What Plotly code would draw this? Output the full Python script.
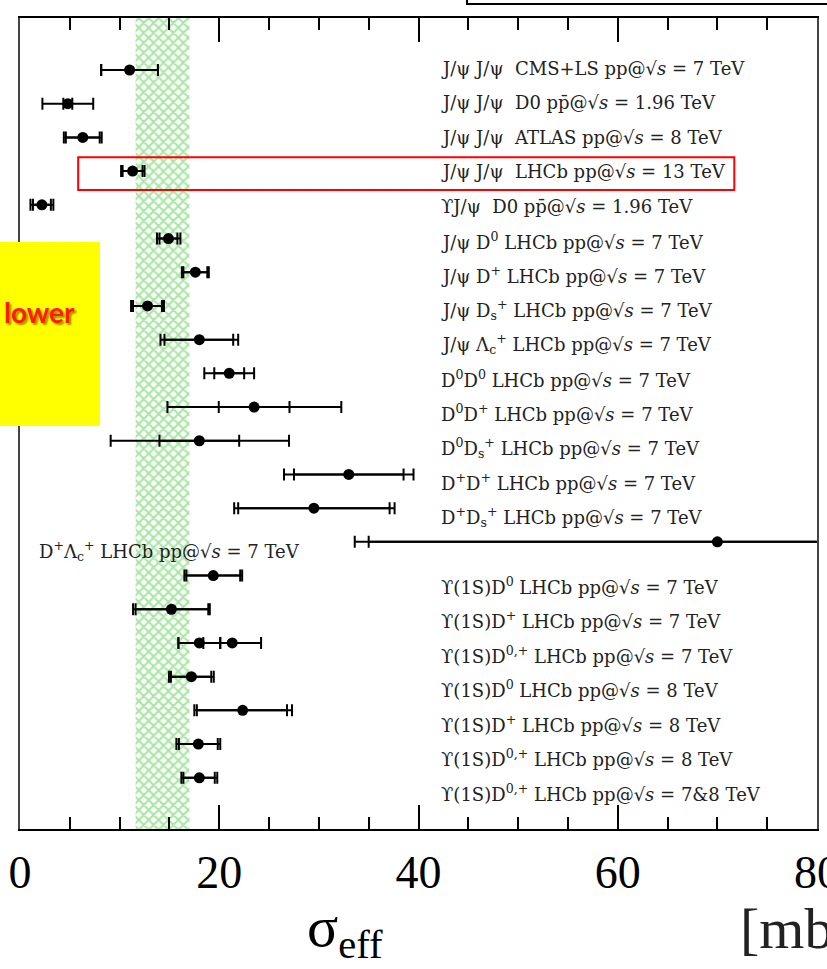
import plotly.graph_objects as go

# ---------------- data ----------------
labels = [
    "J/ψ J/ψ\u00a0\u00a0CMS+LS pp@√<i>s</i>\u00a0=\u00a07 TeV",
    "J/ψ J/ψ\u00a0\u00a0D0 pp\u0304@√<i>s</i>\u00a0=\u00a01.96 TeV",
    "J/ψ J/ψ\u00a0\u00a0ATLAS pp@√<i>s</i>\u00a0=\u00a08 TeV",
    "J/ψ J/ψ\u00a0\u00a0LHCb pp@√<i>s</i>\u00a0=\u00a013 TeV",
    "ϒJ/ψ\u00a0\u00a0D0 pp\u0304@√<i>s</i>\u00a0=\u00a01.96 TeV",
    "J/ψ D<sup>0</sup> LHCb pp@√<i>s</i>\u00a0=\u00a07 TeV",
    "J/ψ D<sup>+</sup> LHCb pp@√<i>s</i>\u00a0=\u00a07 TeV",
    "J/ψ D<sub>s</sub><sup>+</sup> LHCb pp@√<i>s</i>\u00a0=\u00a07 TeV",
    "J/ψ Λ<sub>c</sub><sup>+</sup> LHCb pp@√<i>s</i>\u00a0=\u00a07 TeV",
    "D<sup>0</sup>D<sup>0</sup> LHCb pp@√<i>s</i>\u00a0=\u00a07 TeV",
    "D<sup>0</sup>D<sup>+</sup> LHCb pp@√<i>s</i>\u00a0=\u00a07 TeV",
    "D<sup>0</sup>D<sub>s</sub><sup>+</sup> LHCb pp@√<i>s</i>\u00a0=\u00a07 TeV",
    "D<sup>+</sup>D<sup>+</sup> LHCb pp@√<i>s</i>\u00a0=\u00a07 TeV",
    "D<sup>+</sup>D<sub>s</sub><sup>+</sup> LHCb pp@√<i>s</i>\u00a0=\u00a07 TeV",
    "D<sup>+</sup>Λ<sub>c</sub><sup>+</sup> LHCb pp@√<i>s</i>\u00a0=\u00a07 TeV",
    "ϒ(1S)D<sup>0</sup> LHCb pp@√<i>s</i>\u00a0=\u00a07 TeV",
    "ϒ(1S)D<sup>+</sup> LHCb pp@√<i>s</i>\u00a0=\u00a07 TeV",
    "ϒ(1S)D<sup>0,+</sup> LHCb pp@√<i>s</i>\u00a0=\u00a07 TeV",
    "ϒ(1S)D<sup>0</sup> LHCb pp@√<i>s</i>\u00a0=\u00a08 TeV",
    "ϒ(1S)D<sup>+</sup> LHCb pp@√<i>s</i>\u00a0=\u00a08 TeV",
    "ϒ(1S)D<sup>0,+</sup> LHCb pp@√<i>s</i>\u00a0=\u00a08 TeV",
    "ϒ(1S)D<sup>0,+</sup> LHCb pp@√<i>s</i>\u00a0=\u00a07&amp;8 TeV",
]
sigma_eff = [11.0, 4.8, 6.3, 11.3, 2.2, 14.9, 17.6, 12.8, 18.0, 21.0, 23.5, 18.0,
             33.0, 29.5, 70.0, 19.4, 15.2, 18.0, 17.2, 22.35, 17.9, 18.0]
stat_minus = [2.85, 0.45, 1.7, 1.0, 0.9, 0.9, 1.2, 1.45, 3.5, 1.5, 3.55, 4.0,
              5.5, 7.6, 35.0, 2.7, 3.6, 2.1, 2.05, 4.6, 1.95, 1.6]
stat_plus = [2.85, 0.45, 1.7, 1.0, 0.9, 0.9, 1.2, 1.45, 3.4, 1.5, 3.55, 4.0,
             5.5, 7.6, 40.0, 2.7, 3.7, 2.1, 2.0, 4.45, 1.95, 1.55]
tot_minus = [2.85, 2.55, 1.9, 1.15, 1.15, 1.15, 1.35, 1.65, 3.9, 2.5, 8.7, 8.9,
             6.5, 8.0, 36.4, 2.9, 3.85, 2.1, 2.25, 4.85, 2.2, 1.8]
tot_plus = [2.85, 2.55, 1.9, 1.2, 1.15, 1.2, 1.35, 1.65, 3.9, 2.5, 8.75, 9.0,
            6.5, 8.1, 40.0, 2.9, 3.85, 2.1, 2.25, 4.95, 2.2, 1.8]
# second measurement drawn on the Υ(1S)D0,+ 7 TeV row
extra_row = [18]
extra_val = [21.3]
extra_err = [2.9]
# world-average band
band_low, band_high = 11.6, 17.0

rows = list(range(1, len(labels) + 1))

# ---------------- layout geometry ----------------
W, H = 827, 969
ML, MR, MT, MB = 20, 10, 18, 140
Y_TOP, Y_BOT = -0.543, 23.52
pw, ph = W - ML - MR, H - MT - MB


def px_to_paper_x(px):
    return (px - ML) / pw


def px_to_paper_y(py):
    return (H - MB - py) / ph


fig = go.Figure()

# hatched band
fig.add_trace(go.Scatter(
    x=[band_low, band_high, band_high, band_low, band_low],
    y=[Y_TOP, Y_TOP, Y_BOT, Y_BOT, Y_TOP],
    mode="lines", fill="toself", line=dict(width=0, color="rgba(0,0,0,0)"),
    fillcolor="rgba(255,255,255,0)",
    fillpattern=dict(shape="x", fgcolor="rgb(80,205,70)", bgcolor="rgba(255,255,255,0)",
                     size=7, solidity=0.5),
    hoverinfo="skip", showlegend=False,
))

# total error bars (outer caps) with markers
fig.add_trace(go.Scatter(
    x=sigma_eff, y=rows, mode="markers",
    marker=dict(color="black", size=11, symbol="circle"),
    error_x=dict(type="data", symmetric=False, array=tot_plus, arrayminus=tot_minus,
                 color="black", thickness=2, width=6),
    showlegend=False,
))
# stat error bars (inner caps)
fig.add_trace(go.Scatter(
    x=sigma_eff, y=rows, mode="markers",
    marker=dict(color="black", size=11, opacity=0),
    error_x=dict(type="data", symmetric=False, array=stat_plus, arrayminus=stat_minus,
                 color="black", thickness=2, width=6),
    showlegend=False, hoverinfo="skip",
))
# extra point
fig.add_trace(go.Scatter(
    x=extra_val, y=extra_row, mode="markers",
    marker=dict(color="black", size=11),
    error_x=dict(type="data", array=extra_err, color="black", thickness=2, width=6),
    showlegend=False,
))

# row labels
for i, (r, lab) in enumerate(zip(rows, labels)):
    label_py = 68 + 34.5 * i
    ly = 1 + (label_py - 70) / 33.7
    lx = 1.75 if i == 14 else 42.1
    fig.add_annotation(x=lx, y=ly, xref="x", yref="y", text=lab, showarrow=False,
                       xanchor="left", yanchor="middle",
                       font=dict(family="DejaVu Serif", size=18, color="#222"))

# red highlight box around LHCb 13 TeV row
fig.add_shape(type="rect", xref="x", yref="y", x0=5.84, x1=71.7, y0=3.59, y1=4.56,
              line=dict(color="red", width=2), fillcolor="rgba(0,0,0,0)")

# yellow "lower" box
fig.add_shape(type="rect", xref="paper", yref="paper",
              x0=px_to_paper_x(-2), x1=px_to_paper_x(100),
              y0=px_to_paper_y(426), y1=px_to_paper_y(242),
              line=dict(width=0), fillcolor="#ffff00", layer="above")
fig.add_annotation(xref="paper", yref="paper", x=px_to_paper_x(39), y=px_to_paper_y(312),
                   text="<b>lower</b>", showarrow=False, xanchor="center", yanchor="middle",
                   font=dict(family="Lato", size=28, color="#ff1a00",
                             shadow="2px 2px 2px #a09000"))

# box at top right (partial)
fig.add_shape(type="rect", xref="paper", yref="paper",
              x0=px_to_paper_x(467), x1=px_to_paper_x(840),
              y0=px_to_paper_y(4), y1=px_to_paper_y(-20),
              line=dict(color="black", width=2), fillcolor="rgba(0,0,0,0)")

# axis titles
fig.add_annotation(xref="paper", yref="paper", x=px_to_paper_x(345), y=px_to_paper_y(930),
                   text="σ<sub>eff</sub>", showarrow=False, xanchor="center", yanchor="middle",
                   font=dict(family="Liberation Serif", size=58, color="black"))
fig.add_annotation(xref="paper", yref="paper", x=px_to_paper_x(738), y=px_to_paper_y(928),
                   text="[mb]", showarrow=False, xanchor="left", yanchor="middle",
                   font=dict(family="Liberation Serif", size=58, color="#222"))

fig.update_xaxes(range=[0, 80], showgrid=False, zeroline=False, automargin=False,
                 showline=True, linecolor="black", linewidth=2, mirror="ticks",
                 ticks="inside", ticklen=24, tickwidth=1.5, tickcolor="black",
                 tick0=0, dtick=20, ticklabelstandoff=2, ticklabeloverflow="allow",
                 minor=dict(ticks="inside", ticklen=12, tickwidth=1.5, tickcolor="black",
                            dtick=5, tick0=0, showgrid=False),
                 tickfont=dict(family="Liberation Serif", size=46, color="black"))
fig.update_yaxes(range=[Y_BOT, Y_TOP], showgrid=False, zeroline=False, automargin=False,
                 showline=True, linecolor="#444", linewidth=2, mirror=True,
                 showticklabels=False, ticks="")

fig.update_layout(width=W, height=H, margin=dict(l=ML, r=MR, t=MT, b=MB, autoexpand=False),
                  paper_bgcolor="white", plot_bgcolor="white", showlegend=False)

fig.write_html("out.html", config={"displayModeBar": False},
               post_script="document.body.style.margin='0px';"
                           "document.body.style.overflow='hidden';")
